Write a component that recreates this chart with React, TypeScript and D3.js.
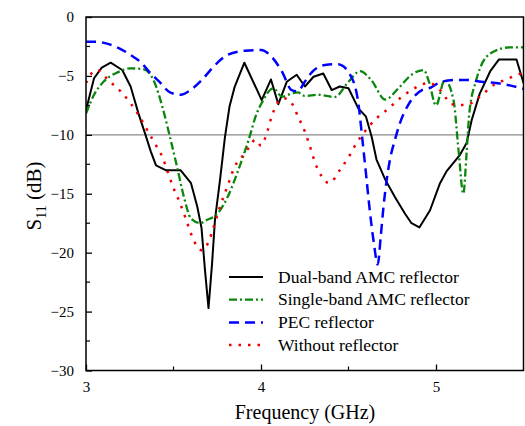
import { useRef, useEffect } from "react";
import * as d3 from "d3";

// S11 curves (frequency in GHz, S11 in dB)
const dualFreq = [3.0, 3.046, 3.09, 3.141, 3.207, 3.255, 3.3, 3.34, 3.37, 3.4, 3.455, 3.54, 3.6, 3.636, 3.66, 3.68, 3.7, 3.72, 3.737, 3.766, 3.794, 3.82, 3.85, 3.905, 4.004, 4.057, 4.099, 4.147, 4.204, 4.251, 4.3, 4.356, 4.404, 4.45, 4.5, 4.556, 4.6, 4.633, 4.66, 4.71, 4.766, 4.823, 4.86, 4.905, 4.966, 5.023, 5.06, 5.137, 5.175, 5.204, 5.25, 5.31, 5.36, 5.46, 5.5];
const dualS11 = [-7.9, -5.2, -4.3, -3.88, -4.5, -5.9, -8.2, -10.0, -11.4, -12.6, -13.0, -13.0, -14.1, -16.1, -17.9, -21.5, -24.7, -21.0, -17.2, -13.8, -10.2, -7.6, -5.9, -3.88, -7.05, -5.3, -7.4, -5.5, -4.9, -5.9, -5.07, -4.8, -6.2, -5.9, -6.05, -7.75, -8.46, -10.2, -12.1, -13.8, -15.3, -16.7, -17.5, -17.86, -16.4, -14.1, -13.1, -11.7, -10.7, -8.74, -6.5, -4.6, -3.6, -3.6, -5.6];

const singleFreq = [3.0, 3.046, 3.1, 3.18, 3.255, 3.33, 3.39, 3.436, 3.48, 3.52, 3.56, 3.6, 3.655, 3.68, 3.756, 3.81, 3.87, 3.93, 3.975, 4.004, 4.07, 4.12, 4.175, 4.21, 4.25, 4.33, 4.42, 4.5, 4.566, 4.63, 4.71, 4.785, 4.86, 4.93, 4.96, 5.0, 5.05, 5.1, 5.13, 5.156, 5.175, 5.19, 5.23, 5.31, 5.42, 5.5];
const singleS11 = [-8.2, -6.6, -5.5, -4.7, -4.36, -4.44, -5.5, -7.6, -10.2, -12.7, -15.3, -17.1, -17.5, -17.3, -16.6, -15.25, -13.0, -10.4, -8.2, -7.3, -6.05, -6.76, -6.5, -6.4, -6.7, -6.6, -6.8, -5.5, -4.6, -5.35, -7.0, -6.05, -4.9, -4.5, -5.5, -7.5, -5.35, -7.05, -11.5, -15.0, -11.5, -8.2, -5.35, -3.1, -2.58, -2.58];

const pecFreq = [3.0, 3.055, 3.13, 3.19, 3.27, 3.31, 3.37, 3.42, 3.48, 3.54, 3.61, 3.665, 3.72, 3.81, 3.91, 4.0, 4.06, 4.12, 4.175, 4.21, 4.25, 4.29, 4.366, 4.44, 4.52, 4.556, 4.58, 4.6, 4.62, 4.645, 4.667, 4.685, 4.7, 4.737, 4.766, 4.794, 4.84, 4.92, 4.96, 5.03, 5.11, 5.18, 5.26, 5.34, 5.41, 5.5];
const pecS11 = [-2.1, -2.1, -2.3, -2.66, -3.37, -3.8, -4.8, -5.5, -6.4, -6.6, -6.05, -5.3, -4.36, -3.2, -2.86, -2.8, -3.37, -4.64, -6.2, -6.3, -5.5, -4.7, -4.07, -4.0, -5.2, -7.3, -10.5, -13.3, -16.2, -19.2, -21.0, -18.5, -16.1, -12.1, -10.4, -9.0, -7.5, -6.2, -6.05, -5.5, -5.35, -5.35, -5.5, -5.6, -5.77, -6.1];

const noneFreq = [3.0, 3.03, 3.065, 3.13, 3.2, 3.255, 3.3, 3.35, 3.4, 3.44, 3.47, 3.5, 3.537, 3.57, 3.6, 3.636, 3.66, 3.7, 3.73, 3.766, 3.81, 3.85, 3.9, 3.94, 3.966, 4.0, 4.03, 4.06, 4.09, 4.13, 4.17, 4.21, 4.25, 4.28, 4.31, 4.35, 4.39, 4.45, 4.5, 4.546, 4.594, 4.66, 4.73, 4.794, 4.87, 4.96, 5.03, 5.09, 5.17, 5.25, 5.33, 5.4, 5.5];
const noneS11 = [-5.6, -4.8, -4.5, -5.4, -6.34, -7.33, -8.3, -9.6, -10.9, -12.0, -13.3, -14.5, -15.8, -17.1, -18.4, -19.5, -19.8, -19.1, -17.8, -16.1, -14.3, -12.7, -11.7, -10.9, -10.4, -10.9, -10.0, -8.5, -7.4, -6.9, -7.2, -8.4, -9.7, -11.0, -12.4, -13.6, -14.1, -13.0, -11.9, -10.7, -9.7, -8.6, -7.75, -6.9, -6.1, -5.6, -6.3, -7.4, -7.47, -6.76, -5.77, -5.3, -4.7];

const legendLabels = ["Dual-band AMC reflector", "Single-band AMC reflector", "PEC reflector", "Without reflector"];
const xTicks = [3, 4, 5];
const yTicks = [0, -5, -10, -15, -20, -25, -30];

const series = [
  { freq: dualFreq, s11: dualS11, color: "#000000", dash: null, width: 2 },
  { freq: singleFreq, s11: singleS11, color: "#0a870a", dash: "8,3,2,3", width: 2.3 },
  { freq: pecFreq, s11: pecS11, color: "#0000ff", dash: "10,6", width: 2.5 },
  { freq: noneFreq, s11: noneS11, color: "#ee0000", dash: "2.5,7", width: 2.5 },
];

const font = "Liberation Serif, DejaVu Serif, Times New Roman, serif";

export default function App() {
  const svgRef = useRef<SVGSVGElement>(null);

  useEffect(() => {
    const svg = d3.select(svgRef.current);
    svg.selectAll("*").remove();

    const left = 86, right = 523.5, top = 17, bottom = 370.5;
    const x = d3.scaleLinear().domain([3, 5.5]).range([left, right]);
    const y = d3.scaleLinear().domain([-30, 0]).range([bottom, top]);

    svg.append("rect").attr("width", 525).attr("height", 426).attr("fill", "#fff");

    svg.append("clipPath").attr("id", "plot-clip")
      .append("rect").attr("x", left).attr("y", top)
      .attr("width", right - left).attr("height", bottom - top);

    // -10 dB reference line
    svg.append("line")
      .attr("x1", left).attr("x2", right)
      .attr("y1", y(-10)).attr("y2", y(-10))
      .attr("stroke", "#8a8a8a").attr("stroke-width", 1.2);

    const g = svg.append("g").attr("clip-path", "url(#plot-clip)");
    series.forEach((s, i) => {
      const pts = s.freq.map((f, k) => [x(f), y(s.s11[k])] as [number, number]);
      const gen = d3.line().curve(i === 0 ? d3.curveLinear : d3.curveMonotoneX);
      g.append("path")
        .attr("d", gen(pts))
        .attr("fill", "none")
        .attr("stroke", s.color)
        .attr("stroke-width", s.width)
        .attr("stroke-linejoin", "round")
        .attr("stroke-dasharray", s.dash);
    });

    // frame
    svg.append("rect")
      .attr("x", left).attr("y", top)
      .attr("width", right - left).attr("height", bottom - top)
      .attr("fill", "none").attr("stroke", "#000").attr("stroke-width", 1.5);

    // x ticks (inside)
    const xAxis = d3.axisBottom(x).tickValues(xTicks).tickSizeInner(-6).tickSizeOuter(0).tickPadding(11).tickFormat(d3.format("d"));
    const xg = svg.append("g").attr("transform", `translate(0,${bottom})`).call(xAxis);
    xg.select(".domain").remove();
    xg.attr("font-family", null).attr("font-size", null);
    xg.selectAll("line").attr("stroke-width", 1.3);
    xg.selectAll("text").style("font-family", font).style("font-size", "15px").attr("fill", "#000");
    [3.5, 4.5].forEach((v) => {
      svg.append("line").attr("x1", x(v)).attr("x2", x(v)).attr("y1", bottom).attr("y2", bottom - 4)
        .attr("stroke", "#000").attr("stroke-width", 1.2);
    });

    // y ticks (inside)
    const yAxis = d3.axisLeft(y).tickValues(yTicks).tickSizeInner(-6).tickSizeOuter(0).tickPadding(12).tickFormat(d3.format("d"));
    const yg = svg.append("g").attr("transform", `translate(${left},0)`).call(yAxis);
    yg.select(".domain").remove();
    yg.attr("font-family", null).attr("font-size", null);
    yg.selectAll("line").attr("stroke-width", 1.3);
    yg.selectAll("text").style("font-family", font).style("font-size", "15px").attr("fill", "#000");
    d3.range(-27.5, 0, 5).forEach((v) => {
      svg.append("line").attr("x1", left).attr("x2", left + 4).attr("y1", y(v)).attr("y2", y(v))
        .attr("stroke", "#000").attr("stroke-width", 1.2);
    });

    // axis titles
    svg.append("text")
      .attr("x", 305).attr("y", 419)
      .attr("text-anchor", "middle")
      .style("font-family", font).style("font-size", "20px")
      .text("Frequency (GHz)");

    const yt = svg.append("text")
      .attr("transform", `translate(41,196) rotate(-90)`)
      .attr("text-anchor", "middle")
      .style("font-family", font).style("font-size", "21px");
    yt.append("tspan").text("S");
    yt.append("tspan").style("font-size", "14px").attr("dy", 5).text("11");
    yt.append("tspan").attr("dy", -5).text(" (dB)");

    // legend
    const legend = svg.append("g");
    legendLabels.forEach((label, i) => {
      const s = series[i];
      const ly = 277 + i * 22.7;
      legend.append("line")
        .attr("x1", 229).attr("x2", 263).attr("y1", ly).attr("y2", ly)
        .attr("stroke", s.color).attr("stroke-width", s.width)
        .attr("stroke-dasharray", s.dash);
      legend.append("text")
        .attr("x", 278).attr("y", ly + 5.5)
        .style("font-family", font).style("font-size", "17.5px")
        .text(label);
    });
  }, []);

  return (
    <svg
      ref={svgRef}
      width={525}
      height={426}
      style={{ position: "absolute", left: 0, top: 0 }}
    />
  );
}
